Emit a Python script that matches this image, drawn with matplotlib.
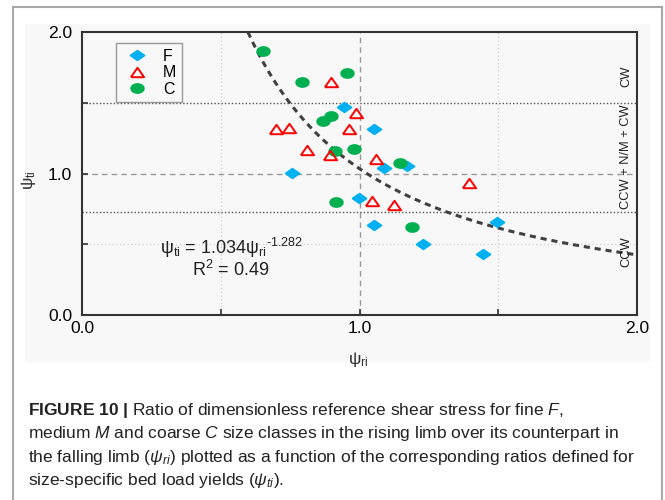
import numpy as np
import matplotlib
matplotlib.use("Agg")
import matplotlib.pyplot as plt
from matplotlib.lines import Line2D
from matplotlib.patches import Rectangle

plt.rcParams['font.family'] = ['Liberation Sans', 'DejaVu Sans']
plt.rcParams['mathtext.fontset'] = 'custom'
plt.rcParams['mathtext.rm'] = 'Liberation Sans'
plt.rcParams['mathtext.it'] = 'Liberation Sans:italic'
plt.rcParams['mathtext.bf'] = 'Liberation Sans:bold'
plt.rcParams['mathtext.default'] = 'regular'

# ---- data ----
F_x = [0.755, 0.945, 1.053, 1.089, 1.172, 0.998, 1.051, 1.230, 1.446, 1.497]
F_y = [1.003, 1.468, 1.314, 1.037, 1.053, 0.824, 0.636, 0.502, 0.429, 0.655]
M_x = [0.897, 0.987, 0.699, 0.746, 0.963, 0.810, 0.894, 1.058, 1.395, 1.046, 1.123]
M_y = [1.645, 1.425, 1.314, 1.324, 1.314, 1.166, 1.131, 1.105, 0.935, 0.806, 0.775]
C_x = [0.653, 0.954, 0.792, 0.897, 0.867, 0.912, 0.981, 1.146, 0.915, 1.188]
C_y = [1.868, 1.708, 1.645, 1.409, 1.373, 1.161, 1.173, 1.072, 0.799, 0.624]
fit_a = 1.034
fit_b = -1.282
r2 = 0.49
bound_hi = 1.5
bound_lo = 0.73
region_labels = ['CW', 'CCW + N/M + CW', 'CCW']
region_y = [1.69, 1.12, 0.45]
caption_lines = [
    r'$\mathbf{FIGURE\ 10\ |}$ Ratio of dimensionless reference shear stress for fine $\mathit{F}$,',
    r'medium $\mathit{M}$ and coarse $\mathit{C}$ size classes in the rising limb over its counterpart in',
    r'the falling limb ($\mathit{ψ_{ri}}$) plotted as a function of the corresponding ratios defined for',
    r'size-specific bed load yields ($\mathit{ψ_{ti}}$).',
]

# custom (horizontally stretched) marker shapes
t = np.linspace(0, 2 * np.pi, 41)
ellipse = list(zip(1.4 * np.cos(t), np.sin(t)))
diamond = [(-1.45, 0), (0, 1), (1.45, 0), (0, -1), (-1.45, 0)]
triangle = [(-0.7, -0.5), (0.7, -0.5), (0, 0.5), (-0.7, -0.5)]

W, H = 665, 500
fig = plt.figure(figsize=(W / 100, H / 100), dpi=100)
fig.patch.set_facecolor('white')

# light grey chart panel
fig.add_artist(Rectangle((25 / W, 1 - 362 / H), 625 / W, 338 / H,
                         transform=fig.transFigure, facecolor='#f8f8f8',
                         edgecolor='none', zorder=0))
# outer frame
bc = '#a8a8a8'
fig.add_artist(Line2D([13 / W, 13 / W], [0, 1 - 7 / H], transform=fig.transFigure, color=bc, lw=1.5))
fig.add_artist(Line2D([13 / W, 662 / W], [1 - 7 / H, 1 - 7 / H], transform=fig.transFigure, color=bc, lw=1.5))
fig.add_artist(Line2D([662 / W, 662 / W], [0, 1 - 7 / H], transform=fig.transFigure, color=bc, lw=1.5))

ax = fig.add_axes([82 / W, 1 - 315 / H, 555 / W, 283 / H])
ax.set_facecolor('#f8f8f8')
ax.set_xlim(0, 2)
ax.set_ylim(0, 2)

# grid / reference lines
for gx in [0.5, 1.5]:
    ax.axvline(gx, color='#d0d0d0', lw=0.9, ls=(0, (1, 2)), zorder=1)
ax.axhline(0.5, color='#d0d0d0', lw=0.9, ls=(0, (1, 2)), zorder=1)
ax.axvline(1.0, color='#999999', lw=1.0, ls=(0, (4, 3)), zorder=1)
ax.axhline(1.0, color='#999999', lw=1.0, ls=(0, (4, 3)), zorder=1)
ax.axhline(bound_hi, color='#555555', lw=1.0, ls=(0, (1, 1.5)), zorder=1)
ax.axhline(bound_lo, color='#555555', lw=1.0, ls=(0, (1, 1.5)), zorder=1)

# fitted power law
x0 = (2.0 / fit_a) ** (1 / fit_b)
xf = np.linspace(x0, 2.0, 200)
ax.plot(xf, fit_a * xf ** fit_b, color='#404040', lw=2.2, dashes=(2, 1.6), zorder=2)

# data
ax.plot(F_x, F_y, ls='none', marker=diamond, ms=10.5, color='#00b0f0', mec='#00b0f0', zorder=3, label='F')
ax.plot(M_x, M_y, ls='none', marker=triangle, ms=9.5, mfc='none', mec='#ff0000', mew=1.4, zorder=4, label='M')
ax.plot(C_x, C_y, ls='none', marker=ellipse, ms=9.4, color='#00b050', mec='#00b050', zorder=3, label='C')

leg = ax.legend(loc='upper left', bbox_to_anchor=(0.061, 0.961), borderaxespad=0,
                fontsize=11.5, frameon=True, fancybox=False, framealpha=1,
                edgecolor='#9a9a9a', facecolor='#f8f8f8', borderpad=0.35,
                labelspacing=0.1, handlelength=2.0, handletextpad=0.6)
leg.get_frame().set_linewidth(1.0)

# ticks
ax.set_xticks([0, 1, 2])
ax.set_yticks([0, 1, 2])
ax.set_xticks([0.5, 1.5], minor=True)
ax.set_yticks([0.5, 1.5], minor=True)
ax.set_xticklabels(['0.0', '1.0', '2.0'])
ax.set_yticklabels(['0.0', '1.0', '2.0'])
ax.tick_params(which='both', direction='in', length=4, width=1.2, color='#333333',
               labelsize=12.5, top=False, right=False)
ax.tick_params(axis='y', which='major', pad=7)
ax.tick_params(axis='x', which='major', pad=4)
for s in ax.spines.values():
    s.set_color('#333333')
    s.set_linewidth(1.5)

ax.set_ylabel(r'$ψ_{ti}$', fontsize=12.5, color='#333333')
ax.yaxis.set_label_coords(-0.079, 0.475)
ax.set_xlabel(r'$ψ_{ri}$', fontsize=12.5, color='#333333')
ax.xaxis.set_label_coords(0.497, -0.122)

# equation
ax.text(0.54, 0.475, r'$ψ_{ti}$ = 1.034$ψ_{ri}{}^{\text{-1.282}}$', fontsize=13, ha='center', va='center', color='#222222')
ax.text(0.535, 0.32, r'R$^2$ = %.2f' % r2, fontsize=13, ha='center', va='center', color='#222222')

# region labels
for lab, yy in zip(region_labels, region_y):
    ax.text(1.96, yy, lab, rotation=90, fontsize=9.3, ha='center', va='center', color='#222222')

# caption
base = [415, 438, 462, 485]
for line, b in zip(caption_lines, base):
    fig.text(28 / W, 1 - b / H, line, fontsize=12.55, ha='left', va='baseline', color='#222222')

fig.savefig('out.png', dpi=100)
